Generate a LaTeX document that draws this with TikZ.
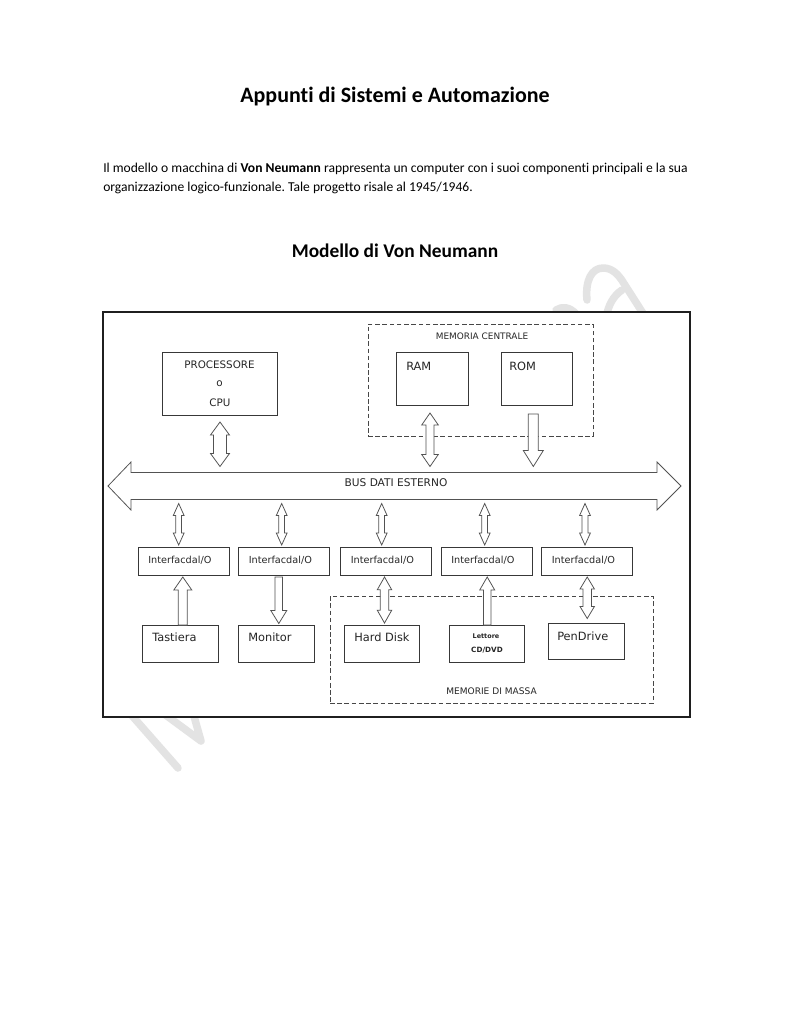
\documentclass[tikz,border=0pt]{standalone}
\usepackage{fontspec}
\setmainfont{Carlito}[Ligatures={NoCommon}]
\newfontfamily\dvs{DejaVu Sans}
\usetikzlibrary{calc}
\frenchspacing
\def\pxu{0.7734pt}
% vertical double block arrow: #1 top tip, #2 bottom tip, #3 half shaft, #4 half head, #5 head length (px)
\newcommand\dblarr[5]{\draw[barrow] let \p1=#1, \p2=#2 in
 (\x1,\y1) -- ({\x1+#4*\pxu},{\y1-#5*\pxu}) -- ({\x1+#3*\pxu},{\y1-#5*\pxu})
 -- ({\x1+#3*\pxu},{\y2+#5*\pxu}) -- ({\x1+#4*\pxu},{\y2+#5*\pxu}) -- (\x1,\y2)
 -- ({\x1-#4*\pxu},{\y2+#5*\pxu}) -- ({\x1-#3*\pxu},{\y2+#5*\pxu})
 -- ({\x1-#3*\pxu},{\y1-#5*\pxu}) -- ({\x1-#4*\pxu},{\y1-#5*\pxu}) -- cycle;}
% upward block arrow: #1 tip (top), #2 tail (bottom)
\newcommand\uparr[5]{\draw[barrow] let \p1=#1, \p2=#2 in
 (\x1,\y1) -- ({\x1+#4*\pxu},{\y1-#5*\pxu}) -- ({\x1+#3*\pxu},{\y1-#5*\pxu})
 -- ({\x1+#3*\pxu},\y2) -- ({\x1-#3*\pxu},\y2) -- ({\x1-#3*\pxu},{\y1-#5*\pxu})
 -- ({\x1-#4*\pxu},{\y1-#5*\pxu}) -- cycle;}
% downward block arrow: #1 tail (top), #2 tip (bottom)
\newcommand\dnarr[5]{\draw[barrow] let \p1=#1, \p2=#2 in
 (\x1,\y1) -- ({\x1+#3*\pxu},\y1) -- ({\x1+#3*\pxu},{\y2+#5*\pxu})
 -- ({\x1+#4*\pxu},{\y2+#5*\pxu}) -- (\x1,\y2) -- ({\x1-#4*\pxu},{\y2+#5*\pxu})
 -- ({\x1-#3*\pxu},{\y2+#5*\pxu}) -- ({\x1-#3*\pxu},\y1) -- cycle;}
\begin{document}
\begin{tikzpicture}[x=0.7734pt,y=-0.7734pt,
  box/.style={draw=black!78, line width=0.75pt, inner sep=0pt, outer sep=0pt},
  dbox/.style={draw=black!72, line width=0.75pt, dash pattern=on 3.6pt off 2pt, inner sep=0pt, outer sep=0pt},
  barrow/.style={draw=black!68, fill=white, line width=0.6pt, line join=miter},
  dtext/.style={font=\dvs\fontsize{8.8}{10}\selectfont, text=black!85, inner sep=0pt},
  ctext/.style={font=\dvs\fontsize{8}{9}\selectfont, text=black!85, inner sep=0pt},
  itext/.style={font=\dvs\fontsize{7.5}{8}\selectfont, text=black!85, inner sep=0pt, anchor=west},
  wmark/.style={draw=black!11, line width=5.8pt, line cap=round, line join=round}
]
\useasboundingbox (0,0) rectangle (791,1024);
\fill[white] (0,0) rectangle (791,1024);

% watermark (faint)
\draw[wmark] (120,702) -- (178,768);
\draw[wmark] (148,702) -- (201,741) -- (190,702);
\draw[wmark] (587,300) .. controls (585,280) and (592,268) .. (603,268) .. controls (612,268) and (618,274) .. (623,282) -- (646,318);
\draw[wmark] (606,318) .. controls (608,306) and (613,296) .. (622,290);
\draw[wmark] (556,310) .. controls (562,306) and (570,307) .. (576,314);

% header texts
\node[font=\bfseries\fontsize{17}{20}\selectfont, anchor=base, inner sep=0pt] (title) at (395,102) {Appunti di Sistemi e Automazione};
\node[font=\fontsize{10.5}{13}\selectfont, anchor=base west, inner sep=0pt] (par1) at (103,172.5) {Il modello o macchina di \textbf{Von Neumann} rappresenta un computer con i suoi componenti principali e la sua};
\node[font=\fontsize{10.5}{13}\selectfont, anchor=base west, inner sep=0pt] (par2) at (103,191.5) {organizzazione logico-funzionale. Tale progetto risale al 1945/1946.};
\node[font=\bfseries\fontsize{15}{18}\selectfont, anchor=base, inner sep=0pt] (head) at (395,257) {Modello di Von Neumann};

% frame
\node[draw=black!88, line width=1.5pt, fill=white, inner sep=0pt, outer sep=0pt,
  minimum width=587*\pxu, minimum height=405*\pxu] (frame) at (396.5,514.5) {};

% dashed groups
\node[dbox, minimum width=225*\pxu, minimum height=112*\pxu] (memc) at (480.5,380) {};
\node[ctext, font=\dvs\fontsize{6.9}{8}\selectfont] (memclbl) at (482,336) {MEMORIA CENTRALE};
\node[dbox, minimum width=323*\pxu, minimum height=107*\pxu] (massa) at (491.5,649.5) {};
\node[ctext, font=\dvs\fontsize{7}{8}\selectfont] (massalbl) at (491.5,691) {MEMORIE DI MASSA};

% CPU
\node[box, minimum width=115*\pxu, minimum height=63*\pxu] (cpu) at (219.5,383.5) {};
\node[ctext] (cpu1) at (219.5,365) {PROCESSORE};
\node[ctext] (cpu2) at (219.5,383.5) {o};
\node[ctext] (cpu3) at (220,402.5) {CPU};

% RAM / ROM
\node[box, minimum width=72*\pxu, minimum height=53*\pxu] (ram) at (432,378.5) {};
\node[dtext, anchor=west] (ramlbl) at (406,366) {RAM};
\node[box, minimum width=71*\pxu, minimum height=53*\pxu] (rom) at (536.5,378.5) {};
\node[dtext, anchor=west] (romlbl) at (509,366) {ROM};

% bus
\coordinate (busL) at (108,486);
\coordinate (busR) at (681,486);
\coordinate (busN) at (394.5,472.5);
\coordinate (busS) at (394.5,499.5);
\draw[barrow] (busL) -- ++(23,-24) -- ++(0,10.5) -- ($(busR)+(-24,-13.5)$) -- ++(0,-10.5)
  -- (busR) -- ++(-24,24) -- ++(0,-10.5) -- ($(busL)+(23,13.5)$) -- ++(0,10.5) -- cycle;
\node[ctext, font=\dvs\fontsize{8.2}{9}\selectfont] (buslbl) at (396,483) {BUS DATI ESTERNO};

% interfaces
\foreach \i/\x in {1/183.5,2/284,3/386,4/486.5,5/587}{
  \node[box, minimum width=91*\pxu, minimum height=28*\pxu] (if\i) at (\x,561) {};
  \node[itext] (if\i lbl) at ($(if\i.west)+(10,-1)$) {Interfacdal/O};
}

% devices
\node[box, minimum width=76*\pxu, minimum height=37*\pxu] (tast) at (180,643.5) {};
\node[dtext, anchor=west] (tastlbl) at (152,637) {Tastiera};
\node[box, minimum width=76*\pxu, minimum height=37*\pxu] (mon) at (276,643.5) {};
\node[dtext, anchor=west] (monlbl) at (248,637) {Monitor};
\node[box, minimum width=75*\pxu, minimum height=37*\pxu] (hd) at (381.5,643.5) {};
\node[dtext, anchor=west] (hdlbl) at (354,637) {Hard Disk};
\node[box, minimum width=75*\pxu, minimum height=37*\pxu] (lett) at (486.5,643.5) {};
\node[font=\dvs\bfseries\fontsize{5}{6}\selectfont, text=black!85, inner sep=0pt] (lett1) at (486,635.7) {Lettore};
\node[font=\dvs\bfseries\fontsize{5.6}{6}\selectfont, text=black!85, inner sep=0pt] (lett2) at (487,650) {CD/DVD};
\node[box, minimum width=76*\pxu, minimum height=36*\pxu] (pen) at (586,641) {};
\node[dtext, anchor=west] (penlbl) at (557,636.7) {PenDrive};

% connectors
\dblarr{($(cpu.south)+(0.5,7)$)}{($(cpu.south |- busN)+(0.5,-6)$)}{6.5}{9.5}{13}
\dblarr{($(ram.south)+(-2,8)$)}{($(ram.south |- busN)+(-2,-6)$)}{4}{8.3}{12}
\dnarr{($(rom.south)+(-3.2,9)$)}{($(rom.south |- busN)+(-3.2,-6)$)}{5}{10}{16}

\dblarr{($(if1.north |- busS)+(-4.8,4)$)}{($(if1.north)+(-4.8,-2)$)}{2.9}{5.4}{12}
\dblarr{($(if2.north |- busS)+(-2.3,4)$)}{($(if2.north)+(-2.3,-2)$)}{2.9}{5.4}{12}
\dblarr{($(if3.north |- busS)+(-4.3,4)$)}{($(if3.north)+(-4.3,-2)$)}{2.9}{5.4}{12}
\dblarr{($(if4.north |- busS)+(-1.8,4)$)}{($(if4.north)+(-1.8,-2)$)}{2.9}{5.4}{12}
\dblarr{($(if5.north |- busS)+(-2,4)$)}{($(if5.north)+(-2,-2)$)}{2.9}{5.4}{12}

\uparr{($(if1.south)+(-0.7,2)$)}{($(if1.south |- tast.north)+(-0.7,0)$)}{4.5}{9}{13}
\dnarr{($(if2.south)+(-5.2,2)$)}{($(if2.south |- mon.north)+(-5.2,-1.5)$)}{3.8}{8}{13}
\dblarr{($(if3.south)+(-1.5,2)$)}{($(if3.south |- hd.north)+(-1.5,-2)$)}{4.2}{7.2}{12.7}
\uparr{($(if4.south)+(0.7,2)$)}{($(if4.south |- lett.north)+(0.7,0)$)}{3.8}{7.5}{13}
\dblarr{($(if5.south)+(0.2,2)$)}{($(if5.south |- pen.north)+(0.2,-4.5)$)}{4.2}{7.2}{12}
\end{tikzpicture}
\end{document}
